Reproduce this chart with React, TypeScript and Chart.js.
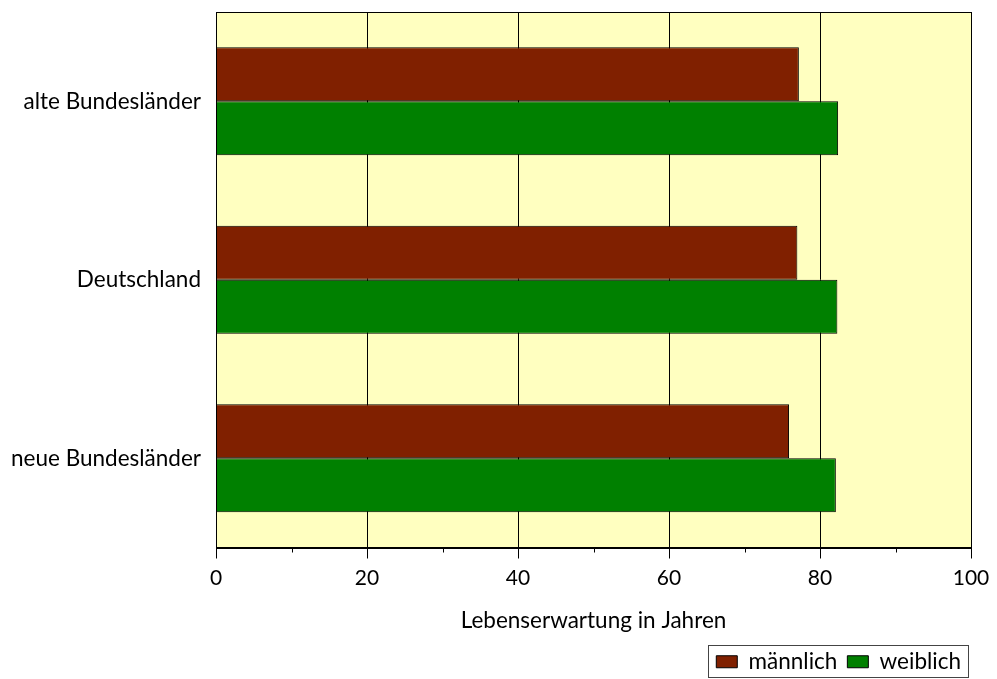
import React, { useEffect, useRef } from 'react';
import { Chart, registerables } from 'chart.js';

Chart.register(...registerables);

const categories = ['alte Bundesländer', 'Deutschland', 'neue Bundesländer'];
const maleValues = [77.2, 77.0, 75.9];
const femaleValues = [82.4, 82.3, 82.1];
const seriesNames = ['männlich', 'weiblich'];
const axisTitle = 'Lebenserwartung in Jahren';
const xMin = 0;
const xMax = 100;
const majorStep = 20;
const minorTicks = [10, 30, 50, 70, 90];

const FONT = 'Lato, "Noto Sans", sans-serif';
const TEXT_SIZE = 22.5;
const TICK_SIZE = 21;

const decorPlugin = {
  id: 'decor',
  beforeDraw(chart: any) {
    const { ctx, chartArea } = chart;
    ctx.save();
    ctx.fillStyle = '#FFFFC0';
    ctx.fillRect(chartArea.left, chartArea.top, chartArea.right - chartArea.left, chartArea.bottom - chartArea.top);
    ctx.restore();
  },
  afterDraw(chart: any) {
    const { ctx, chartArea } = chart;
    const xs = chart.scales.x;
    ctx.save();
    ctx.strokeStyle = '#000';
    ctx.lineWidth = 1;
    ctx.strokeRect(Math.round(chartArea.left) + 0.5, Math.round(chartArea.top) + 0.5,
      Math.round(chartArea.right - chartArea.left), Math.round(chartArea.bottom - chartArea.top));
    ctx.beginPath();
    for (const v of minorTicks) {
      const px = Math.round(xs.getPixelForValue(v)) + 0.5;
      ctx.moveTo(px, chartArea.bottom);
      ctx.lineTo(px, chartArea.bottom + 5);
    }
    ctx.stroke();
    const lg = chart.legend;
    if (lg && lg.legendHitBoxes && lg.legendHitBoxes.length) {
      let l = Infinity, r = -Infinity, t = Infinity, b = -Infinity;
      for (const h of lg.legendHitBoxes) {
        l = Math.min(l, h.left); r = Math.max(r, h.left + h.width);
        t = Math.min(t, h.top); b = Math.max(b, h.top + h.height);
      }
      ctx.strokeStyle = '#444';
      ctx.strokeRect(Math.round(l - 8) + 0.5, Math.round(t - 6) + 0.5, Math.round(r - l + 15), Math.round(b - t + 9));
    }
    ctx.restore();
  },
};

export default function App() {
  const ref = useRef<HTMLCanvasElement>(null);
  useEffect(() => {
    document.body.style.margin = '0';
    const chart = new Chart(ref.current as HTMLCanvasElement, {
      type: 'bar',
      data: {
        labels: categories,
        datasets: [
          {
            label: seriesNames[0],
            data: maleValues,
            backgroundColor: '#802000',
            borderColor: '#000',
            borderWidth: 1,
            barPercentage: 1,
            categoryPercentage: 0.605,
          },
          {
            label: seriesNames[1],
            data: femaleValues,
            backgroundColor: '#008000',
            borderColor: '#000',
            borderWidth: 1,
            barPercentage: 1,
            categoryPercentage: 0.605,
          },
        ],
      },
      options: {
        indexAxis: 'y',
        responsive: false,
        animation: false,
        layout: { padding: { top: 12, right: 26, left: 0, bottom: -4 } },
        plugins: {
          legend: {
            position: 'bottom',
            align: 'end',
            labels: {
              font: { family: FONT, size: TEXT_SIZE },
              color: '#000',
              boxWidth: 21,
              boxHeight: 12,
              padding: 10,
            },
          },
          tooltip: { enabled: false },
        },
        scales: {
          x: {
            min: xMin,
            max: xMax,
            ticks: {
              stepSize: majorStep,
              font: { family: FONT, size: TICK_SIZE },
              color: '#000',
              padding: 7,
            },
            grid: {
              color: (c: any) => (c.tick && (c.tick.value === xMin || c.tick.value === xMax) ? 'rgba(0,0,0,0)' : '#000'),
              tickColor: '#000',
              tickLength: 11,
              lineWidth: 1,
            },
            border: { display: true, color: '#000' },
            title: {
              display: true,
              text: axisTitle,
              font: { family: FONT, size: TEXT_SIZE },
              color: '#000',
              padding: { top: 14, bottom: 6 },
            },
            afterFit: (s: any) => { s.height = 93; s.paddingLeft = 0; s.paddingRight = 0; },
          },
          y: {
            grid: { display: false },
            border: { display: true, color: '#000' },
            ticks: {
              font: { family: FONT, size: TEXT_SIZE },
              color: '#000',
              padding: 7,
            },
            afterFit: (s: any) => { s.width = 216; s.paddingTop = 0; s.paddingBottom = 0; },
          },
        },
      },
      plugins: [decorPlugin],
    });
    return () => chart.destroy();
  }, []);
  return (
    <div style={{ position: 'absolute', left: 0, top: 0, width: 997, height: 679 }}>
      <canvas ref={ref} width={997} height={679} />
    </div>
  );
}
